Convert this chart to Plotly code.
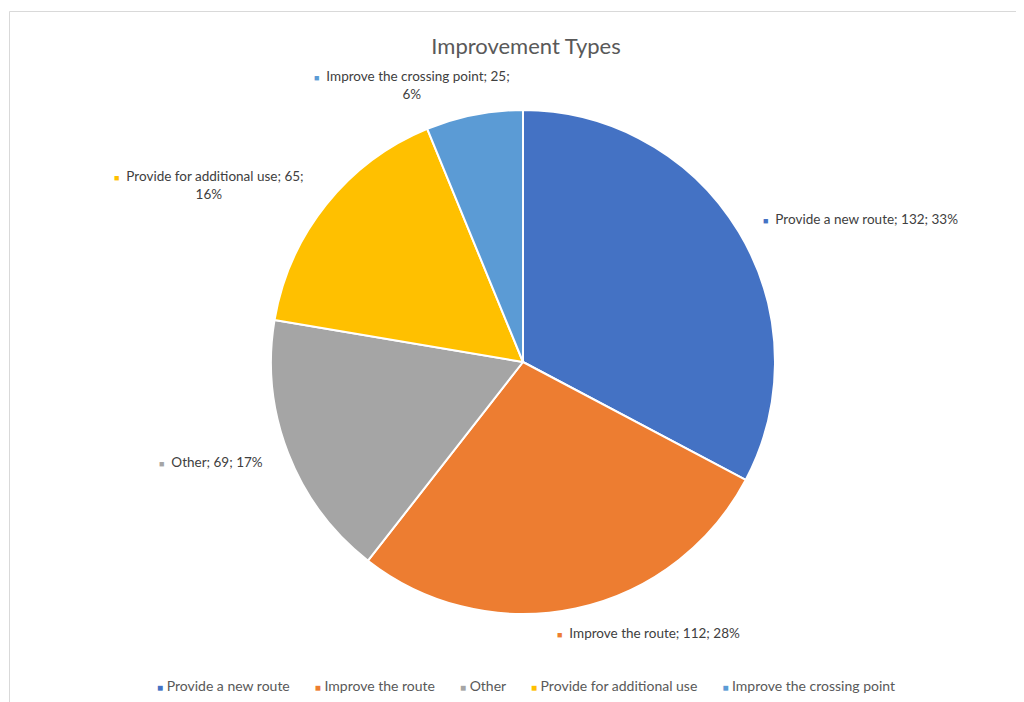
import numpy as np
import plotly.graph_objects as go

categories = ["Provide a new route", "Improve the route", "Other",
              "Provide for additional use", "Improve the crossing point"]
counts = [132, 112, 69, 65, 25]
colors = ["#4472C4", "#ED7D31", "#A5A5A5", "#FFC000", "#5B9BD5"]

W, H = 1024, 702
OFF = 8  # page body margin
cx, cy, R = 523 - OFF, 362 - OFF, 252  # pie centre / radius in px
FONT = "Lato, Carlito, sans-serif"
NB = "\u00a0"


def px2x(v):
    return (v - OFF) / W


def px2y(v):
    return 1 - (v - OFF) / H


fig = go.Figure()

fig.add_trace(go.Pie(
    labels=categories,
    values=counts,
    marker=dict(colors=colors, line=dict(color="white", width=2)),
    sort=False,
    direction="clockwise",
    rotation=0,
    textinfo="none",
    hoverinfo="label+value+percent",
    showlegend=False,
    domain=dict(x=[(cx - R) / W, (cx + R) / W], y=[(H - cy - R) / H, (H - cy + R) / H]),
))

# data labels placed around the pie from slice mid-angles
total = sum(counts)
cum = np.cumsum([0] + counts)
xshifts = [0, -26, 0, 0, 43]
yshifts = [0, 0, 0, 4, 5]
for i, (name, v, col) in enumerate(zip(categories, counts, colors)):
    mid = (cum[i] + v / 2) / total * 2 * np.pi
    rr = 1.1 * R
    px = cx + rr * np.sin(mid)
    py = cy - rr * np.cos(mid)
    pct = round(v / total * 100)
    sq = f'<span style="color:{col};font-size:9px">■</span>  '
    if len(name) > 20:
        txt = f"{sq}{name}; {v};<br>{pct}%"
    else:
        txt = f"{sq}{name}; {v}; {pct}%"
    fig.add_annotation(
        x=px / W, y=1 - py / H, xref="paper", yref="paper",
        text=txt, showarrow=False,
        xanchor="left" if np.sin(mid) > 0 else "right",
        yanchor="middle", align="center",
        xshift=xshifts[i], yshift=yshifts[i],
        font=dict(family=FONT, size=13.5, color="#404040"),
    )

# bottom legend row (Excel style: small square, tight spacing)
legend_txt = (NB * 7).join(
    f'<span style="color:{col};font-size:10px">■</span>{NB}{name}'
    for name, col in zip(categories, colors)
)
fig.add_annotation(
    x=px2x(526), y=px2y(685), xref="paper", yref="paper",
    text=legend_txt, showarrow=False, xanchor="center", yanchor="middle",
    font=dict(family=FONT, size=14, color="#595959"),
)

fig.add_shape(type="rect", xref="paper", yref="paper",
              x0=px2x(9.5), x1=1.05, y0=-0.05, y1=px2y(11.5),
              line=dict(color="#D9D9D9", width=1), layer="below")

fig.update_layout(
    width=W, height=H,
    margin=dict(l=0, r=0, t=0, b=0),
    paper_bgcolor="white",
    plot_bgcolor="white",
    showlegend=False,
    title=dict(text="Improvement Types", x=px2x(526), xanchor="center",
               y=px2y(46), yanchor="middle",
               font=dict(family=FONT, size=22, color="#595959")),
)

fig.write_html("out.html")
